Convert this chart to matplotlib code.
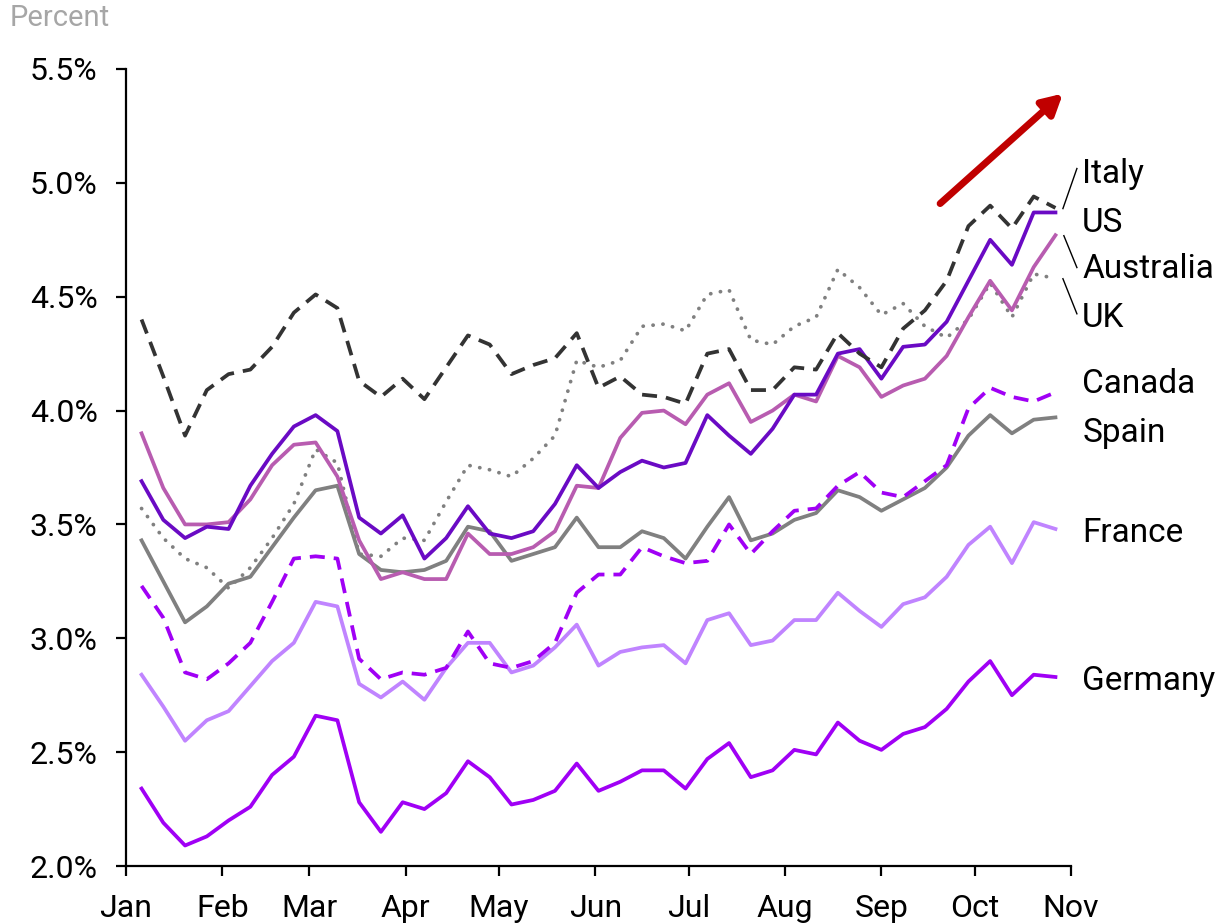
import matplotlib
matplotlib.use("Agg")
import matplotlib.pyplot as plt
import pandas as pd
import numpy as np

dates = pd.date_range("2023-01-06", periods=43, freq="7D")

italy = [4.40, 4.15, 3.89, 4.09, 4.16, 4.18, 4.28, 4.43, 4.51, 4.45, 4.13, 4.06, 4.14, 4.05, 4.19, 4.33, 4.29, 4.16, 4.20, 4.23, 4.34, 4.10, 4.15, 4.07, 4.06, 4.03, 4.25, 4.27, 4.09, 4.09, 4.19, 4.18, 4.34, 4.25, 4.19, 4.36, 4.44, 4.57, 4.81, 4.90, 4.80, 4.94, 4.89]
us = [3.69, 3.52, 3.44, 3.49, 3.48, 3.67, 3.81, 3.93, 3.98, 3.91, 3.53, 3.46, 3.54, 3.35, 3.44, 3.58, 3.46, 3.44, 3.47, 3.59, 3.76, 3.66, 3.73, 3.78, 3.75, 3.77, 3.98, 3.89, 3.81, 3.92, 4.07, 4.07, 4.25, 4.27, 4.14, 4.28, 4.29, 4.39, 4.57, 4.75, 4.64, 4.87, 4.87]
australia = [3.90, 3.66, 3.50, 3.50, 3.51, 3.61, 3.76, 3.85, 3.86, 3.71, 3.43, 3.26, 3.29, 3.26, 3.26, 3.46, 3.37, 3.37, 3.40, 3.47, 3.67, 3.66, 3.88, 3.99, 4.00, 3.94, 4.07, 4.12, 3.95, 4.00, 4.07, 4.04, 4.24, 4.19, 4.06, 4.11, 4.14, 4.24, 4.41, 4.57, 4.44, 4.63, 4.77]
uk = [3.57, 3.44, 3.35, 3.31, 3.22, 3.31, 3.44, 3.59, 3.83, 3.77, 3.37, 3.36, 3.44, 3.43, 3.60, 3.76, 3.74, 3.71, 3.79, 3.89, 4.22, 4.19, 4.22, 4.37, 4.38, 4.35, 4.51, 4.53, 4.31, 4.29, 4.37, 4.41, 4.62, 4.54, 4.42, 4.47, 4.37, 4.32, 4.40, 4.56, 4.41, 4.60, 4.58]
canada = [3.23, 3.09, 2.85, 2.82, 2.89, 2.98, 3.16, 3.35, 3.36, 3.35, 2.91, 2.82, 2.85, 2.84, 2.87, 3.03, 2.89, 2.87, 2.90, 2.98, 3.20, 3.28, 3.28, 3.40, 3.36, 3.33, 3.34, 3.50, 3.37, 3.47, 3.56, 3.57, 3.67, 3.73, 3.64, 3.62, 3.69, 3.76, 4.01, 4.10, 4.06, 4.04, 4.08]
spain = [3.43, 3.25, 3.07, 3.14, 3.24, 3.27, 3.40, 3.53, 3.65, 3.67, 3.37, 3.30, 3.29, 3.30, 3.34, 3.49, 3.47, 3.34, 3.37, 3.40, 3.53, 3.40, 3.40, 3.47, 3.44, 3.35, 3.49, 3.62, 3.43, 3.46, 3.52, 3.55, 3.65, 3.62, 3.56, 3.61, 3.66, 3.75, 3.89, 3.98, 3.90, 3.96, 3.97]
france = [2.84, 2.70, 2.55, 2.64, 2.68, 2.79, 2.90, 2.98, 3.16, 3.14, 2.80, 2.74, 2.81, 2.73, 2.87, 2.98, 2.98, 2.85, 2.88, 2.96, 3.06, 2.88, 2.94, 2.96, 2.97, 2.89, 3.08, 3.11, 2.97, 2.99, 3.08, 3.08, 3.20, 3.12, 3.05, 3.15, 3.18, 3.27, 3.41, 3.49, 3.33, 3.51, 3.48]
germany = [2.34, 2.19, 2.09, 2.13, 2.20, 2.26, 2.40, 2.48, 2.66, 2.64, 2.28, 2.15, 2.28, 2.25, 2.32, 2.46, 2.39, 2.27, 2.29, 2.33, 2.45, 2.33, 2.37, 2.42, 2.42, 2.34, 2.47, 2.54, 2.39, 2.42, 2.51, 2.49, 2.63, 2.55, 2.51, 2.58, 2.61, 2.69, 2.81, 2.90, 2.75, 2.84, 2.83]

y_ticks = [2.0, 2.5, 3.0, 3.5, 4.0, 4.5, 5.0, 5.5]
month_labels = ["Jan", "Feb", "Mar", "Apr", "May", "Jun", "Jul", "Aug", "Sep", "Oct", "Nov"]
label_names = ["Italy", "US", "Australia", "UK", "Canada", "Spain", "France", "Germany"]
label_y = [5.00, 4.786, 4.58, 4.365, 4.078, 3.861, 3.422, 2.774]

plt.rcParams['font.family'] = ['Roboto', 'DejaVu Sans']

fig = plt.figure(figsize=(12.23, 9.24), dpi=100)
ax = fig.add_axes([126/1223, 58/924, (1071-126)/1223, (866-69)/924])

lw = 2.7
ax.plot(dates, spain, color="#808080", lw=lw, zorder=2)
ax.plot(dates, france, color="#C084FF", lw=lw, zorder=2)
ax.plot(dates, germany, color="#A000F5", lw=lw, zorder=2)
ax.plot(dates, canada, color="#A000F5", lw=lw, ls=(0, (4, 2.4)), zorder=2)
ax.plot(dates, uk, color="#808080", lw=lw, ls=(0, (0.05, 2.6)), dash_capstyle="round", zorder=2)
ax.plot(dates, australia, color="#B85CB0", lw=lw, zorder=3)
ax.plot(dates, us, color="#6A0AC4", lw=lw, zorder=4)
ax.plot(dates, italy, color="#333333", lw=lw, ls=(0, (4, 2.4)), zorder=5)

ax.set_xlim(pd.Timestamp("2023-01-01"), pd.Timestamp("2023-11-01"))
ax.set_ylim(2.0, 5.5)
ax.set_yticks(y_ticks)
ax.set_yticklabels([f"{v:.1f}%" for v in y_ticks])
month_ticks = pd.date_range("2023-01-01", periods=11, freq="MS")
ax.set_xticks(month_ticks)
ax.set_xticklabels(month_labels)

for s in ["top", "right"]:
    ax.spines[s].set_visible(False)
for s in ["left", "bottom"]:
    ax.spines[s].set_linewidth(1.6)
ax.tick_params(axis="both", direction="out", length=7.5, width=1.6, labelsize=23, colors="black")
ax.tick_params(axis="y", pad=13)
ax.tick_params(axis="x", pad=13)

fig.text(10/1223, 1 - 26/924, "Percent", fontsize=21, color="#A6A6A6", va="baseline", ha="left")

def day(d):
    return pd.Timestamp("2023-01-01") + pd.Timedelta(days=d)

# labels on the right
for name, yv in zip(label_names, label_y):
    ax.text(day(307.6), yv, name, fontsize=24, va="baseline", ha="left", clip_on=False)

# leader lines
def leader(d0, y0, d1, y1):
    ax.plot([day(d0), day(d1)], [y0, y1], color="black", lw=1.0, clip_on=False, zorder=6)

leader(301.4, 4.887, 305.9, 5.063)
leader(301.7, 4.768, 305.9, 4.628)
leader(301.4, 4.579, 305.9, 4.425)

# red arrow
ax.annotate("", xy=(day(301.4), 5.392), xytext=(day(261.9), 4.909),
            arrowprops=dict(arrowstyle="-|>,head_length=1.2,head_width=0.65", color="#C00000", lw=5,
                            shrinkA=0, shrinkB=0), zorder=7)

fig.savefig("out.png", dpi=100)
